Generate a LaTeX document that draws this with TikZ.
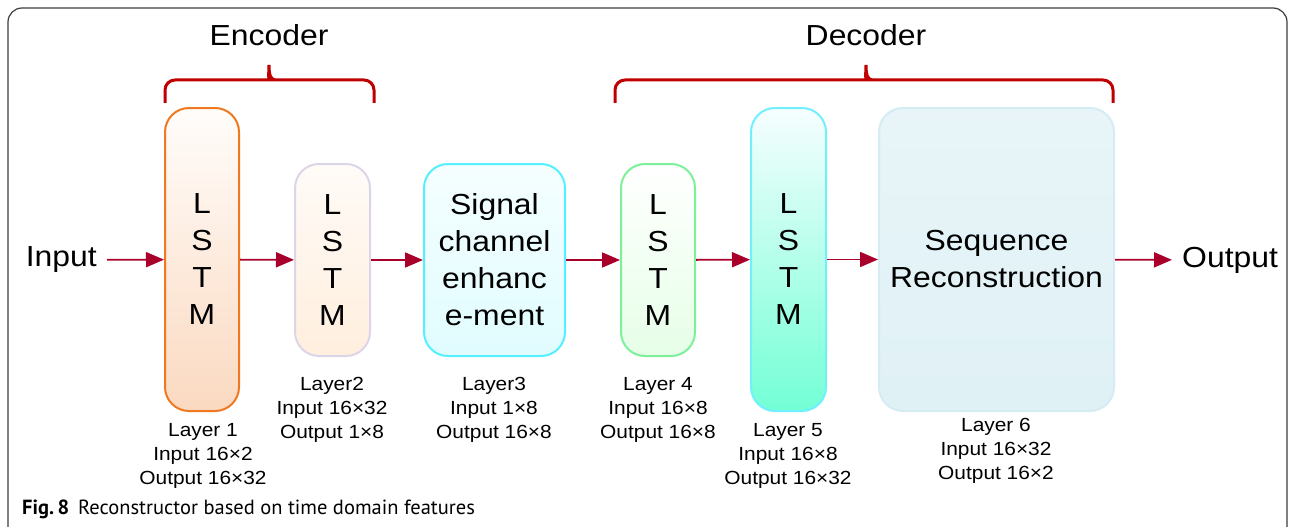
\documentclass[tikz,border=0pt]{standalone}
\usepackage{fontspec}
\setmainfont{Liberation Sans}[FakeStretch=1.1]
\newfontfamily\capfont{PT Sans}
\usetikzlibrary{arrows.meta,calc}
\definecolor{flowred}{HTML}{A8002A}
\definecolor{bracered}{HTML}{C00000}
\definecolor{framegray}{HTML}{3C3C3C}
\definecolor{lstmorange}{HTML}{F07820}
\definecolor{lstmlilac}{HTML}{DCD5E8}
\definecolor{enhcyan}{HTML}{55F0FF}
\definecolor{lstmgreen}{HTML}{7DF09A}
\definecolor{lstmteal}{HTML}{70F0FF}
\definecolor{seqblue}{HTML}{D5ECF2}
\tikzset{
  flow/.style={-{Triangle[length=18pt,width=15pt]},line width=1.8pt,flowred},
  bracket/.style={line width=3pt,bracered,rounded corners=10pt},
  layerbox/.style={draw,line width=2pt,rounded corners=24pt,inner sep=0pt,
    align=center,font=\fontsize{29}{37}\selectfont},
  info/.style={align=center,inner sep=0pt,font=\fontsize{19}{24}\selectfont},
  bigtext/.style={font=\fontsize{29}{35}\selectfont,inner sep=2pt},
  port/.style={font=\fontsize{29}{35}\selectfont,inner ysep=2pt,inner xsep=10pt}
}
\begin{document}
\begin{tikzpicture}[x=1pt,y=-1pt]
  \useasboundingbox (0,0) rectangle (1294,527);
  \draw[framegray,line width=1.2pt,rounded corners=14pt] (8,540) -- (8,8) -- (1287,8) -- (1287,540);
  \node[bigtext] (encoder) at (269,35) {Encoder};
  \node[bigtext] (decoder) at (866,35) {Decoder};
  \node[layerbox,draw=lstmorange,top color=white!60!orange!4,bottom color=lstmorange!28,
    minimum width=74pt,minimum height=303pt] (l1) at (202,259.5) {L\\S\\T\\M};
  \node[layerbox,draw=lstmlilac,top color=orange!3,bottom color=orange!13,
    minimum width=75pt,minimum height=192pt] (l2) at (332.5,260) {L\\S\\T\\M};
  \node[layerbox,draw=enhcyan,top color=enhcyan!6,bottom color=enhcyan!18,
    minimum width=141pt,minimum height=192pt] (l3) at (494.5,260) {Signal\\channel\\enhanc\\e-ment};
  \node[layerbox,draw=lstmgreen,top color=white,bottom color=lstmgreen!35!green!12,
    minimum width=74pt,minimum height=192pt] (l4) at (658,260) {L\\S\\T\\M};
  \node[layerbox,draw=lstmteal,top color=lstmteal!6,bottom color=green!30!cyan!55!white,
    minimum width=75pt,minimum height=303pt] (l5) at (788.5,259.5) {L\\S\\T\\M};
  \node[layerbox,draw=seqblue,top color=seqblue!55,bottom color=seqblue!75,
    minimum width=235pt,minimum height=303pt] (l6) at (996.5,259.5) {Sequence\\Reconstruction};
  \node[port,anchor=east] (in) at (107,260) {Input};
  \node[port,anchor=west] (out) at (1172,260) {Output};
  \draw[flow] (in) -- (l1);
  \draw[flow] (l1) -- (l2);
  \draw[flow] (l2) -- (l3);
  \draw[flow] (l3) -- (l4);
  \draw[flow] (l4) -- (l5);
  \draw[flow] (l5) -- (l6);
  \draw[flow] (l6) -- (out);
  \draw[bracket] (165,103) |- (262,80) [sharp corners] .. controls (267,80) and (269,76) .. (269,65)
    .. controls (269,76) and (271,80) .. (276,80) [rounded corners=10pt] -| (374,103);
  \draw[bracket] (615,103) |- (859,80) [sharp corners] .. controls (864,80) and (866,76) .. (866,65)
    .. controls (866,76) and (868,80) .. (873,80) [rounded corners=10pt] -| (1113,103);
  \node[info] (t1) at (203,456) {Layer 1\\Input 16×2\\Output 16×32};
  \node[info] (t2) at (332,410) {Layer2\\Input 16×32\\Output 1×8};
  \node[info] (t3) at (494,410) {Layer3\\Input 1×8\\Output 16×8};
  \node[info] (t4) at (658,410) {Layer 4\\Input 16×8\\Output 16×8};
  \node[info] (t5) at (788,456) {Layer 5\\Input 16×8\\Output 16×32};
  \node[info] (t6) at (996,451) {Layer 6\\Input 16×32\\Output 16×2};
  \node[anchor=west,inner sep=0pt,font=\capfont\fontsize{20.5}{22}\selectfont] (cap) at (22,509)
    {\textbf{Fig.\,8}\hspace{9pt}Reconstructor based on time domain features};
\end{tikzpicture}
\end{document}
